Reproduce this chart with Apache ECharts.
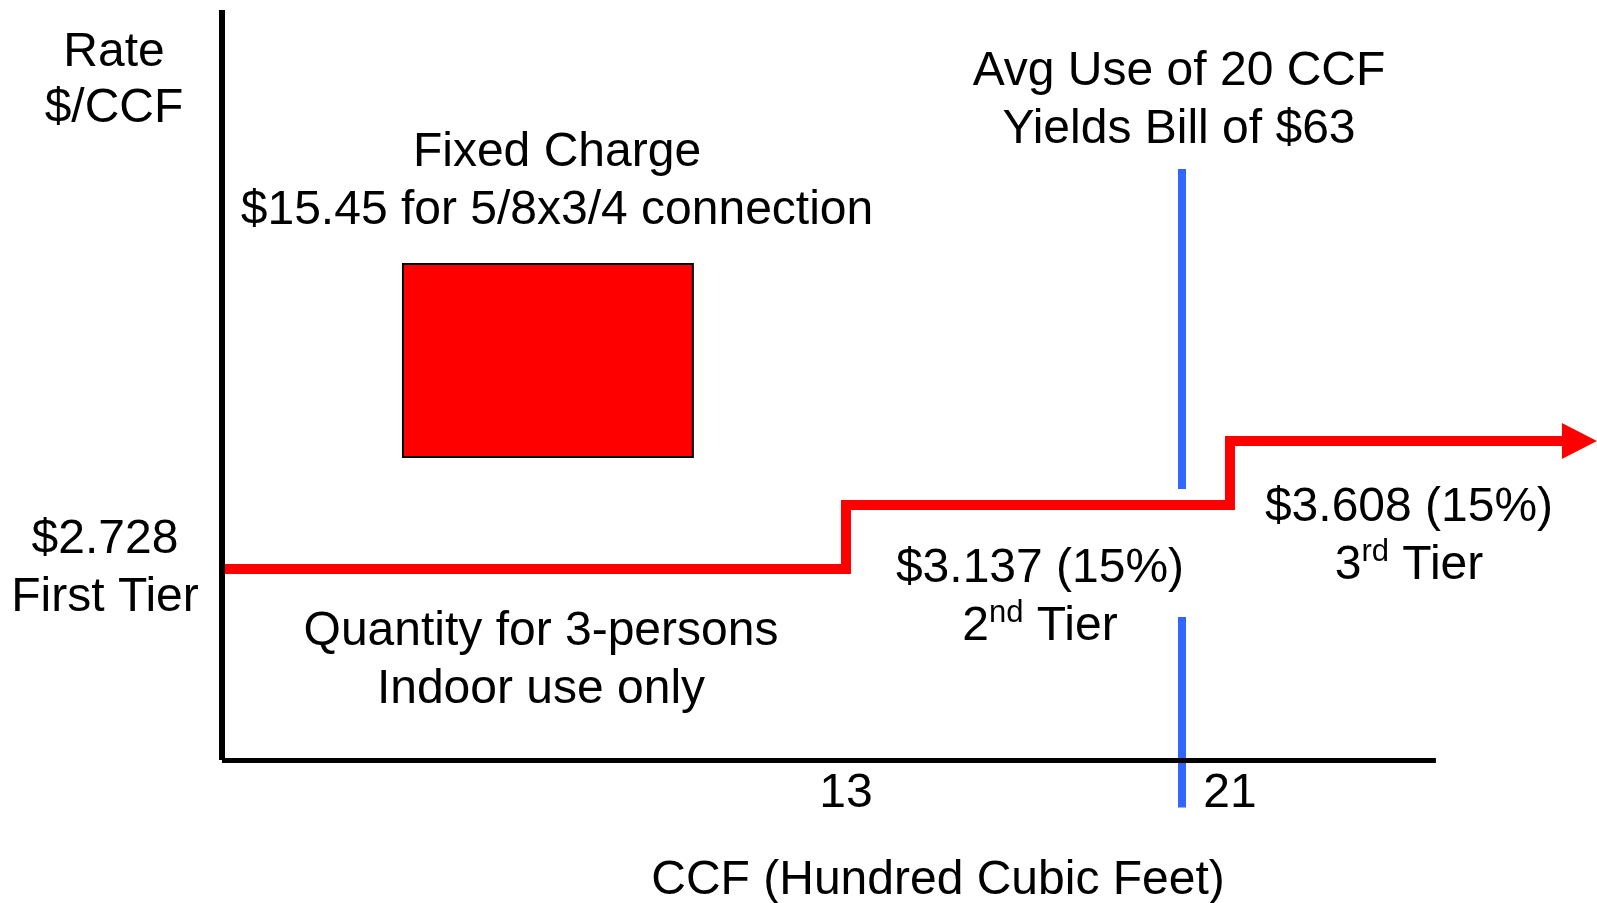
<!DOCTYPE html>
<html>
<head>
<meta charset="utf-8">
<script src="https://cdn.jsdelivr.net/npm/echarts@6/dist/echarts.min.js"></script>
<style>
html,body{margin:0;padding:0;background:#fff}
#chart{width:1597px;height:903px}
</style>
</head>
<body>
<div id="chart"></div>
<script>
// tiered water rate: CCF used on x, $/CCF on y
// each tier is +15%, so a log y axis keeps the steps evenly spaced like the slide
const tierStart = [0, 13, 21]
const tierEnd = [13, 21, 28]
const tierRate = [2.728, 3.137, 3.608]
const tierIncrease = [0, 15, 15]
const tierName = ['First', '2nd', '3rd']
const xTicks = [13, 21]
const avgUse = 20
const avgBill = 63
const fixedCharge = 15.45
const meterSize = '5/8x3/4'
const persons = 3
// schematic extents (axis units) for the fixed-charge box and the avg-use marker
const fixedBoxX = [3.77, 9.81]
const fixedBoxY = [3.484, 5.312]
const avgLineY = [[6.537, 3.249], [2.457, 1.62]]

// the grid is as big as everything drawn (line series are always clipped to it),
// the visible axes are drawn shorter with markLines
const X_MAX = 28.646, X_AXIS_END = 25.29
const Y_MIN = 1.6113, Y_MAX = 9.2515, Y_FLOOR = 1.7975

const FONT = '"Liberation Sans", Arial, sans-serif'
const RED = '#ff0000'
const BLUE = '#3366ff'

const chart = echarts.init(document.getElementById('chart'))

// step line points: start of every tier, then the end of the last one
let stepData = tierStart.map((s, i) => [s, tierRate[i]])
stepData.push([tierEnd[tierEnd.length - 1], tierRate[tierRate.length - 1]])

const sup = s => {
    let m = s.match(/^(\d+)(\D+)$/)
    return m ? m[1] + '{sup|' + m[2] + '}' : s
}

const tierLabels = tierStart.map((s, i) => {
    let text = i == 0
        ? 'Quantity for ' + persons + '-persons\nIndoor use only'
        : '$' + tierRate[i].toFixed(3) + ' (' + tierIncrease[i] + '%)\n' + sup(tierName[i]) + ' Tier'
    let offsets = [[7, 92], [2, 93], [11, 96]]
    return {
        value: [(s + tierEnd[i]) / 2, tierRate[i]],
        label: { formatter: text, offset: offsets[i] }
    }
})

const textStyle = { fontFamily: FONT, fontSize: 48, color: '#000' }
const gText = (x, y, text, lh) => ({
    type: 'text', x, y, silent: true,
    style: { text, fill: '#000', font: '48px ' + FONT, align: 'center', verticalAlign: 'middle', lineHeight: lh || 58 }
})

const axisLine = (from, to, width) => [
    { coord: from, lineStyle: { color: '#000', width, type: 'solid', cap: 'butt' } },
    { coord: to }
]

const option = {
    animation: false,
    backgroundColor: '#fff',
    grid: { left: 222, right: 0, top: 10, bottom: 93 },
    xAxis: {
        type: 'value', min: 0, max: X_MAX,
        axisLine: { show: false },
        axisTick: { show: false },
        splitLine: { show: false },
        axisLabel: { customValues: xTicks, margin: -40, ...textStyle }
    },
    yAxis: {
        type: 'log', logBase: 10, min: Y_MIN, max: Y_MAX,
        axisLine: { show: false },
        axisTick: { show: false },
        splitLine: { show: false },
        axisLabel: {
            customValues: [tierRate[0]],
            formatter: v => '$' + (+v).toFixed(3) + '\n' + tierName[0] + ' Tier',
            align: 'center', margin: 117, lineHeight: 58, padding: [6, 0, 0, 0], ...textStyle
        }
    },
    graphic: [
        gText(114, 81, 'Rate\n$/CCF', 56),
        gText(557, 182, 'Fixed Charge\n$' + fixedCharge.toFixed(2) + ' for ' + meterSize + ' connection'),
        gText(1179, 101, 'Avg Use of ' + avgUse + ' CCF\nYields Bill of $' + avgBill),
        gText(938, 881, 'CCF (Hundred Cubic Feet)')
    ],
    series: [
        {
            name: 'rate',
            type: 'line',
            step: 'end',
            data: stepData,
            symbol: 'none',
            z: 3,
            lineStyle: { color: RED, width: 10, cap: 'butt', join: 'miter' },
            markArea: {
                silent: true,
                itemStyle: { color: RED, borderColor: '#000', borderWidth: 2 },
                data: [[{ coord: [fixedBoxX[0], fixedBoxY[1]] }, { coord: [fixedBoxX[1], fixedBoxY[0]] }]]
            },
            markLine: {
                silent: true,
                symbol: 'none',
                label: { show: false },
                lineStyle: { color: BLUE, width: 8, type: 'solid', cap: 'butt' },
                data: [
                    ...avgLineY.map(([a, b]) => [{ coord: [avgUse, a] }, { coord: [avgUse, b] }]),
                    axisLine([0, Y_MAX], [0, Y_FLOOR], 6),
                    axisLine([0, Y_FLOOR], [X_AXIS_END, Y_FLOOR], 5)
                ]
            }
        },
        {
            name: 'arrow',
            type: 'scatter',
            data: [[tierEnd[tierEnd.length - 1] + 0.28, tierRate[tierRate.length - 1]]],
            symbol: 'triangle',
            symbolRotate: -90,
            symbolSize: [36, 35],
            itemStyle: { color: RED, opacity: 1 },
            z: 4
        },
        {
            name: 'tier labels',
            type: 'scatter',
            data: tierLabels,
            symbolSize: 0,
            itemStyle: { opacity: 1 },
            label: {
                show: true, position: 'inside', lineHeight: 58, ...textStyle,
                rich: { sup: { fontFamily: FONT, fontSize: 31, lineHeight: 31, verticalAlign: 'top', color: '#000' } }
            }
        }
    ]
}

chart.setOption(option)
</script>
</body>
</html>
